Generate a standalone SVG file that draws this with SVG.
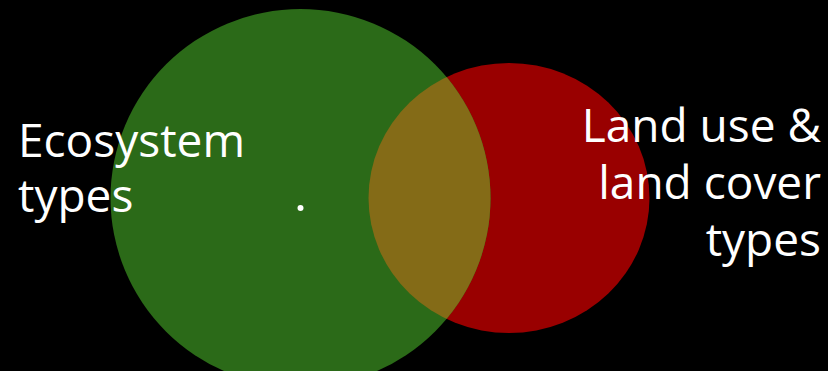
<svg xmlns="http://www.w3.org/2000/svg" width="828" height="371" viewBox="0 0 828 371">
<style>
.lbl{font-family:"Open Sans","Liberation Sans",sans-serif;font-size:46px;fill:#ffffff}
.r{text-anchor:end}
</style>
<defs>
<clipPath id="clipRed"><ellipse cx="509" cy="198" rx="140.5" ry="135"/></clipPath>
</defs>
<rect x="0" y="0" width="828" height="371" fill="#000000"/>
<g id="land-use">
<ellipse cx="509" cy="198" rx="140.5" ry="135" fill="#990000"/>
</g>
<g id="ecosystem">
<ellipse cx="300.5" cy="198" rx="190" ry="189" fill="#2b6a18"/>
</g>
<g id="overlap">
<ellipse cx="300.5" cy="198" rx="190" ry="189" fill="#846b17" clip-path="url(#clipRed)"/>
</g>
<g id="connectors"></g>
<circle cx="300.5" cy="208" r="3" fill="#ffffff"/>
<g id="labels">
<text class="lbl" x="18" y="157">Ecosystem</text>
<text class="lbl" x="18" y="212">types</text>
<text class="lbl r" x="821" y="142">Land use &amp;</text>
<text class="lbl r" x="821" y="199">land cover</text>
<text class="lbl r" x="821" y="256">types</text>
</g>
</svg>
